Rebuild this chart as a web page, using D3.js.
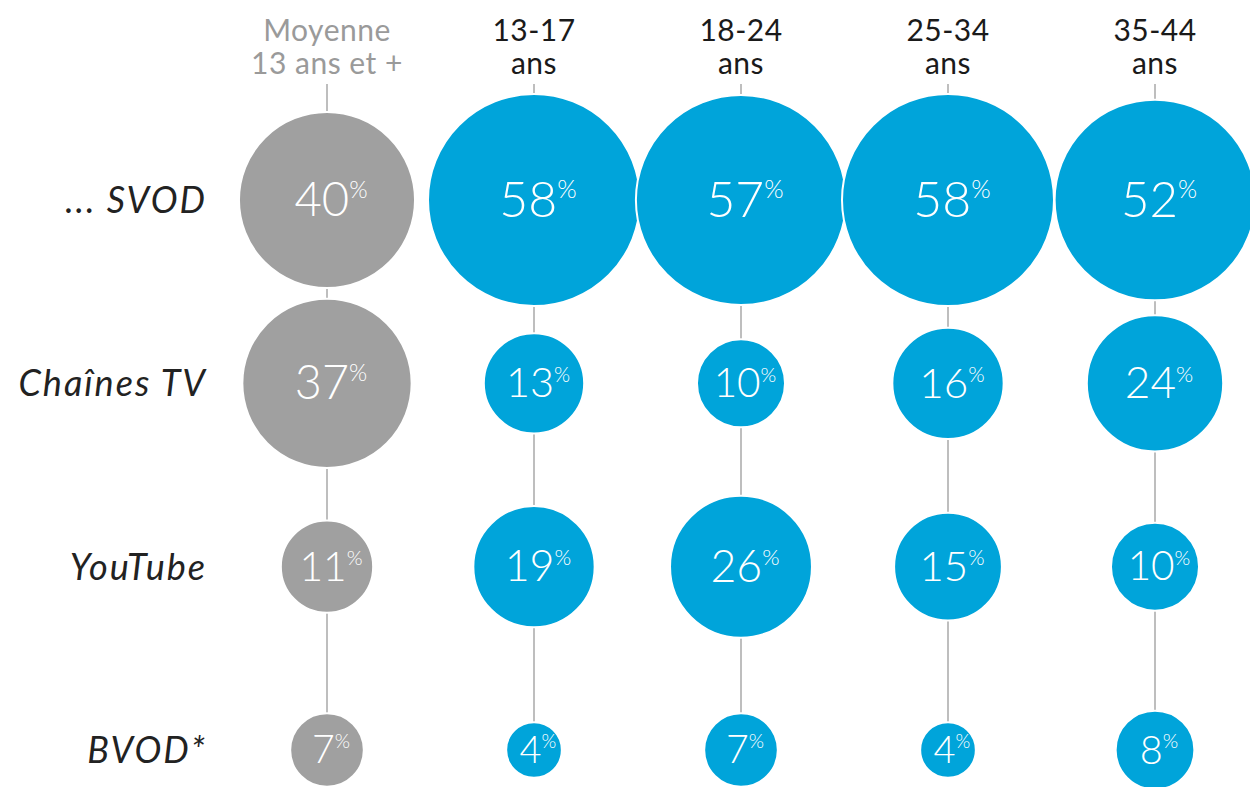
<!DOCTYPE html>
<html>
<head>
<meta charset="utf-8">
<script src="https://cdn.jsdelivr.net/npm/d3@7"></script>
<style>
  body { margin: 0; background: #fff; }
  text { font-family: "Lato", "DejaVu Sans", sans-serif; }
</style>
</head>
<body>
<script>
const width = 1250;
const height = 787;

// column headers (two lines each)
const groups = ["moy", "13-17", "18-24", "25-34", "35-44"];
const headLine1 = ["Moyenne", "13-17", "18-24", "25-34", "35-44"];
const headLine2 = ["13 ans et +", "ans", "ans", "ans", "ans"];

// row labels
const services = ["... SVOD", "Chaînes TV", "YouTube", "BVOD*"];

// values in %, one array per column, rows in the order of services
const moyenne = [40, 37, 11, 7];
const age1317 = [58, 13, 19, 4];
const age1824 = [57, 10, 26, 7];
const age2534 = [58, 16, 15, 4];
const age3544 = [52, 24, 10, 8];
const values = [moyenne, age1317, age1824, age2534, age3544];

const grey = "#a0a0a0";
const blue = "#00a4da";

var svg = d3.select("body")
  .append("svg")
  .attr("width", width)
  .attr("height", height);

var x = d3.scalePoint().domain(groups).range([327, 1155]);
var y = d3.scalePoint().domain(services).range([200, 750]);
var r = d3.scaleSqrt().domain([0, 58]).range([0, 106]);

// label size grows a little with the bubble
var fontSize = d3.scaleLinear().domain([28, 106]).range([38, 50]).clamp(true);

// flatten into cells
var cells = [];
groups.forEach(function(g, i) {
    services.forEach(function(s, j) {
        cells.push({ group: g, service: s, value: values[i][j], col: i });
    });
});

// vertical connecting lines
svg.selectAll("line.stem")
  .data(groups)
  .enter()
  .append("line")
  .attr("class", "stem")
  .attr("x1", d => x(d))
  .attr("x2", d => x(d))
  .attr("y1", 84)
  .attr("y2", y(services[services.length - 1]))
  .attr("stroke", "#a8a8a8")
  .attr("stroke-width", 1.5);

// headers
var head = svg.selectAll("text.head")
  .data(groups)
  .enter()
  .append("text")
  .attr("class", "head")
  .attr("text-anchor", "middle")
  .attr("font-size", 30)
  .attr("letter-spacing", 0.5)
  .attr("fill", (d, i) => i === 0 ? "#9a9a9a" : "#1a1a1a");

head.append("tspan")
  .attr("x", d => x(d))
  .attr("y", 41)
  .text((d, i) => headLine1[i]);

head.append("tspan")
  .attr("x", d => x(d))
  .attr("y", 74)
  .text((d, i) => headLine2[i]);

// row labels
svg.selectAll("text.row")
  .data(services)
  .enter()
  .append("text")
  .attr("class", "row")
  .attr("x", 207)
  .attr("y", d => y(d) + 13)
  .attr("text-anchor", "end")
  .attr("font-size", 36)
  .attr("font-style", "italic")
  .attr("letter-spacing", 2)
  .attr("fill", "#222")
  .text(d => d);

// bubbles
svg.selectAll("circle.bubble")
  .data(cells)
  .enter()
  .append("circle")
  .attr("class", "bubble")
  .attr("cx", d => x(d.group))
  .attr("cy", d => y(d.service))
  .attr("r", d => r(d.value))
  .attr("fill", d => d.col === 0 ? grey : blue)
  .attr("stroke", "#fff")
  .attr("stroke-width", 2);

// values
var lab = svg.selectAll("text.val")
  .data(cells)
  .enter()
  .append("text")
  .attr("class", "val")
  .attr("x", d => x(d.group) + 4)
  .attr("y", d => y(d.service) + fontSize(r(d.value)) * 0.34)
  .attr("text-anchor", "middle")
  .attr("fill", "#fff")
  .attr("font-weight", 300)
  .attr("font-size", d => fontSize(r(d.value)));

lab.append("tspan").text(d => d.value);
lab.append("tspan")
  .attr("font-size", d => fontSize(r(d.value)) * 0.5)
  .attr("dy", d => -fontSize(r(d.value)) * 0.38)
  .text("%");
</script>
</body>
</html>
